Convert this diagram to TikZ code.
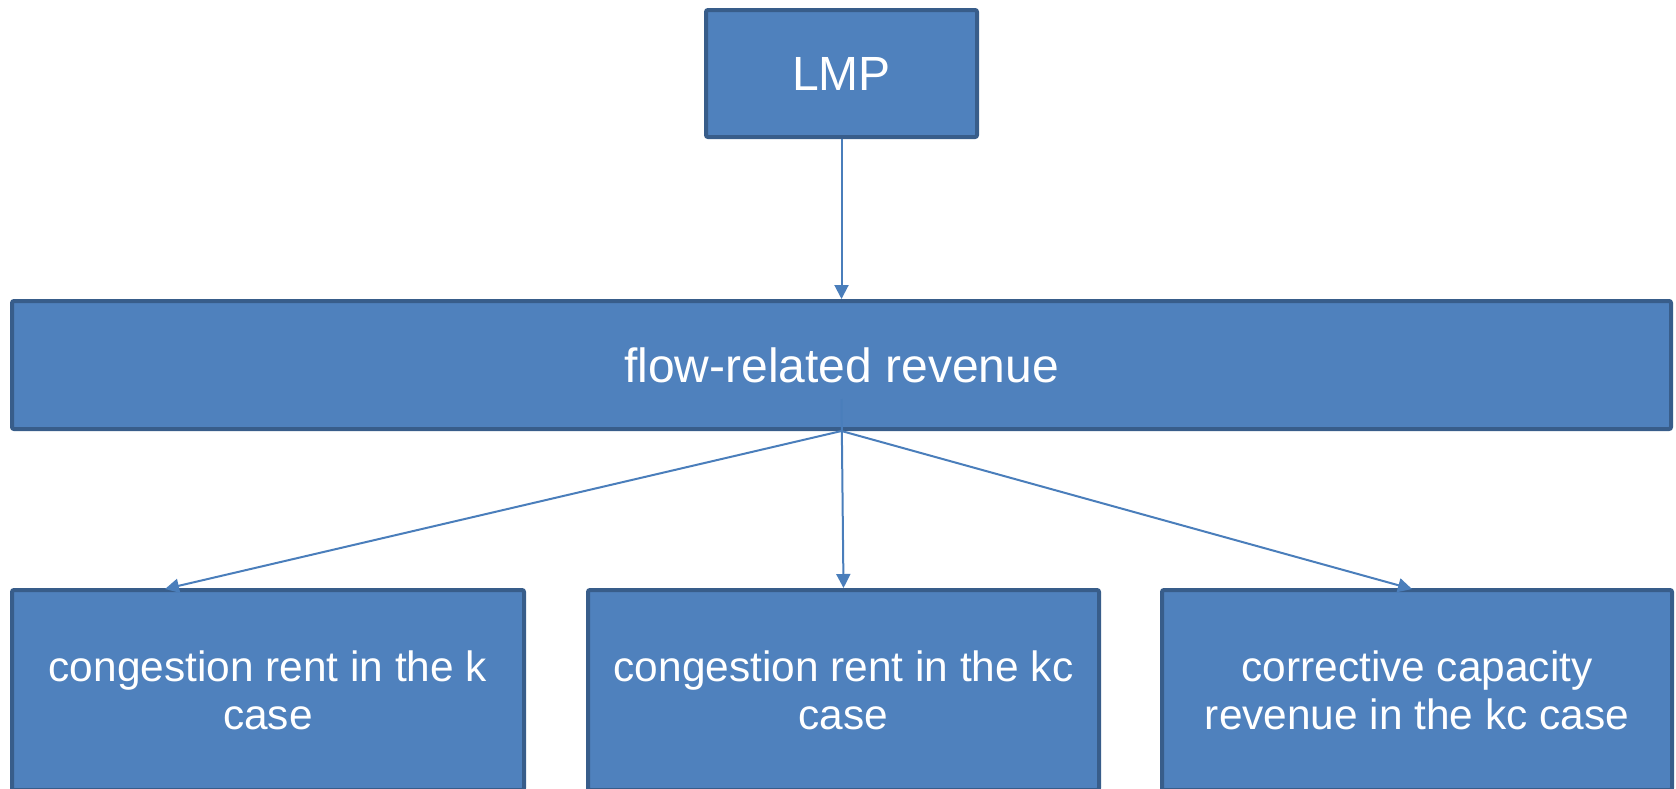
\documentclass[tikz,border=0pt]{standalone}
\usepackage{fontspec}
\setmainfont{Liberation Sans}
\usetikzlibrary{arrows.meta}
\definecolor{boxfill}{HTML}{4F81BD}
\definecolor{boxline}{HTML}{385D8A}
\definecolor{linkblue}{HTML}{4A7EBB}

\begin{document}
\begin{tikzpicture}[x=0.5pt,y=-0.5pt,
  box/.style={draw=boxline, fill=boxfill, line width=2pt, rounded corners=1pt,
    text=white, font=\fontsize{24}{26}\selectfont, align=center, inner sep=0pt},
  leaf/.style={box, font=\fontsize{21.2}{24}\selectfont},
  link/.style={draw=linkblue, line width=1pt, -{Triangle[length=7pt,width=7pt]}}]
\useasboundingbox (0,0) rectangle (1676,788);

% top level
\node[box, minimum width=135.5pt, minimum height=63.5pt] (lmp) at (841.5,73.5) {LMP};
\node[box, minimum width=829.5pt, minimum height=64pt] (flow) at (841.5,365) {flow-related revenue};

% bottom level (runs past the lower edge of the page)
\node[leaf, minimum width=256pt, minimum height=100pt] (kcase) at (268,690) {congestion rent in the k\\case};
\node[leaf, minimum width=255.5pt, minimum height=100pt] (kccase) at (843.5,690) {congestion rent in the kc\\case};
\node[leaf, minimum width=255pt, minimum height=100pt] (corr) at (1417,690) {corrective capacity\\revenue in the kc case};

% arrow end points on the top edges
\coordinate (t1) at (165,589);
\coordinate (t3) at (1412,589);

\draw[link] (lmp.south) -- (flow.north);
\draw[link] (flow.south) -- (t1);
\draw[link] ([yshift=16pt]flow.south) -- (kccase.north);
\draw[link] (flow.south) -- (t3);
\end{tikzpicture}
\end{document}
